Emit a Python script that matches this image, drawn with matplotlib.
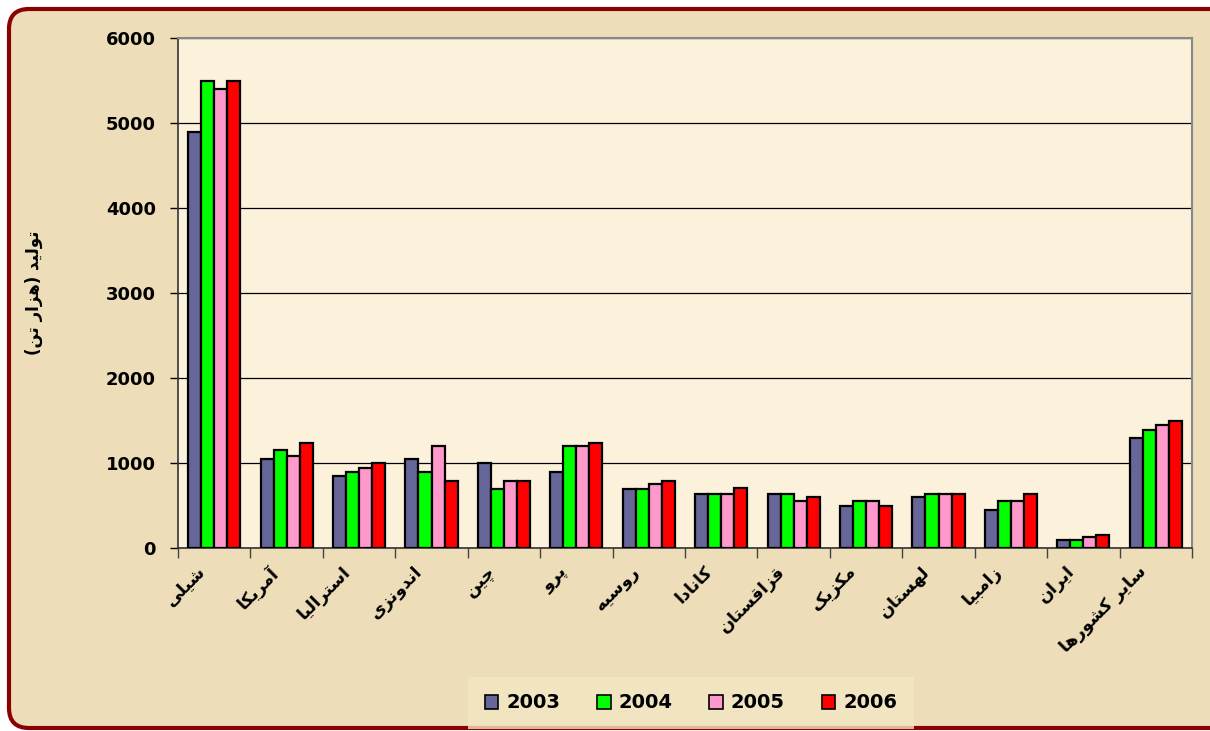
import matplotlib.pyplot as plt
import numpy as np
from matplotlib.patches import FancyBboxPatch

# ---------------- data ----------------
countries = ['شیلی', 'آمریکا', 'استرالیا', 'اندونزی', 'چین', 'پرو', 'روسیه',
             'کانادا', 'قزاقستان', 'مکزیک', 'لهستان', 'زامبیا', 'ایران', 'سایر کشورها']
years = ['2003', '2004', '2005', '2006']
v2003 = [4900, 1050, 850, 1050, 1000, 900, 700, 640, 640, 490, 600, 450, 100, 1300]
v2004 = [5500, 1150, 900, 890, 700, 1200, 700, 640, 640, 555, 640, 555, 100, 1390]
v2005 = [5400, 1085, 940, 1200, 785, 1200, 750, 640, 555, 555, 640, 555, 125, 1450]
v2006 = [5500, 1240, 1000, 790, 785, 1240, 785, 705, 600, 490, 640, 640, 150, 1500]
ylabel = 'تولید (هزار تن)'
colors = ['#666699', '#00FF00', '#FF99CC', '#FF0000']

# ---------- crude arabic/persian shaping (matplotlib has no bidi/shaping) ----------
# letter: (isolated, final, initial, medial) ; 2-tuple = joins only to the right
forms = {
    'ا': ('\uFE8D', '\uFE8E'), 'آ': ('\uFE81', '\uFE82'),
    'د': ('\uFEA9', '\uFEAA'), 'ر': ('\uFEAD', '\uFEAE'),
    'ز': ('\uFEAF', '\uFEB0'), 'و': ('\uFEED', '\uFEEE'),
    'ب': ('\uFE8F', '\uFE90', '\uFE91', '\uFE92'),
    'پ': ('\uFB56', '\uFB57', '\uFB58', '\uFB59'),
    'ت': ('\uFE95', '\uFE96', '\uFE97', '\uFE98'),
    'چ': ('\uFB7A', '\uFB7B', '\uFB7C', '\uFB7D'),
    'س': ('\uFEB1', '\uFEB2', '\uFEB3', '\uFEB4'),
    'ش': ('\uFEB5', '\uFEB6', '\uFEB7', '\uFEB8'),
    'ق': ('\uFED5', '\uFED6', '\uFED7', '\uFED8'),
    'ک': ('\uFB8E', '\uFB8F', '\uFB90', '\uFB91'),
    'ل': ('\uFEDD', '\uFEDE', '\uFEDF', '\uFEE0'),
    'م': ('\uFEE1', '\uFEE2', '\uFEE3', '\uFEE4'),
    'ن': ('\uFEE5', '\uFEE6', '\uFEE7', '\uFEE8'),
    'ه': ('\uFEE9', '\uFEEA', '\uFEEB', '\uFEEC'),
    'ی': ('\uFBFC', '\uFBFD', '\uFBFE', '\uFBFF'),
}

def shape(s):
    out = []
    for i, c in enumerate(s):
        if c not in forms:
            out.append({'(': ')', ')': '('}.get(c, c))
            continue
        prev = s[i-1] if i > 0 else ''
        nxt = s[i+1] if i < len(s)-1 else ''
        jp = prev in forms and len(forms[prev]) == 4
        jn = len(forms[c]) == 4 and nxt in forms
        f = forms[c]
        if jp and jn:
            out.append(f[3])
        elif jp:
            out.append(f[1])
        elif jn:
            out.append(f[2])
        else:
            out.append(f[0])
    return ''.join(out[::-1])

# ---------------- plot ----------------
fig = plt.figure(figsize=(12.1, 7.31), dpi=100)
fig.patch.set_facecolor('white')
# frame in inches (1 inch = 100 px here)
bg = FancyBboxPatch((0.09, 0.03), 12.3, 7.19,
                    boxstyle='round,pad=0,rounding_size=0.2',
                    transform=fig.dpi_scale_trans, facecolor='#EDDEB9',
                    edgecolor='#8B0000', linewidth=3, zorder=-5)
fig.patches.append(bg)

ax = fig.add_axes([178/1210, (731-548)/731, (1192-178)/1210, 510/731], zorder=2)
ax.set_facecolor('#FCF2DC')
x = np.arange(len(countries))
w = 0.18
for k, vals in enumerate([v2003, v2004, v2005, v2006]):
    ax.bar(x + (k-1.5)*w, vals, w, color=colors[k], edgecolor='black',
           linewidth=1.6, label=years[k], zorder=3)

ax.set_xlim(-0.5, len(countries)-0.5)
ax.set_ylim(0, 6000)
ax.set_yticks(np.arange(0, 6001, 1000))
ax.set_yticklabels([str(t) for t in range(0, 6001, 1000)], fontsize=13, fontweight='bold')
ax.yaxis.grid(True, color='black', linewidth=0.9, zorder=1)
ax.set_axisbelow(True)
ax.tick_params(axis='y', length=6, width=1, pad=10)

ax.set_xticks(np.arange(-0.5, len(countries), 1))
ax.set_xticklabels([])
ax.tick_params(axis='x', length=7, width=1, color='#444444')
for i, name in enumerate(countries):
    ax.text(i - 0.25, -170, shape(name), rotation=45, ha='right', va='top',
            rotation_mode='anchor', fontsize=12.5, fontweight='bold',
            family=['DejaVu Sans'])

ax.set_ylabel(shape(ylabel), fontsize=12, fontweight='bold', labelpad=45)

for s in ['top', 'right']:
    ax.spines[s].set_color('#888888')
    ax.spines[s].set_linewidth(1.5)
for s in ['left', 'bottom']:
    ax.spines[s].set_color('#333333')
    ax.spines[s].set_linewidth(1.2)

leg = ax.legend(loc='center', bbox_to_anchor=(691/1210, 28/731), bbox_transform=fig.transFigure,
                ncol=4, frameon=True, prop={'weight': 'bold', 'size': 14},
                handlelength=0.7, handleheight=0.7, columnspacing=1.9, handletextpad=0.4)
leg.get_frame().set_facecolor('#F3E6C4')
leg.get_frame().set_edgecolor('none')
leg.get_frame().set_boxstyle('square', pad=0.45)
for h in leg.legend_handles:
    h.set_linewidth(1.2)

plt.savefig('out.png', dpi=100, facecolor=fig.get_facecolor())
